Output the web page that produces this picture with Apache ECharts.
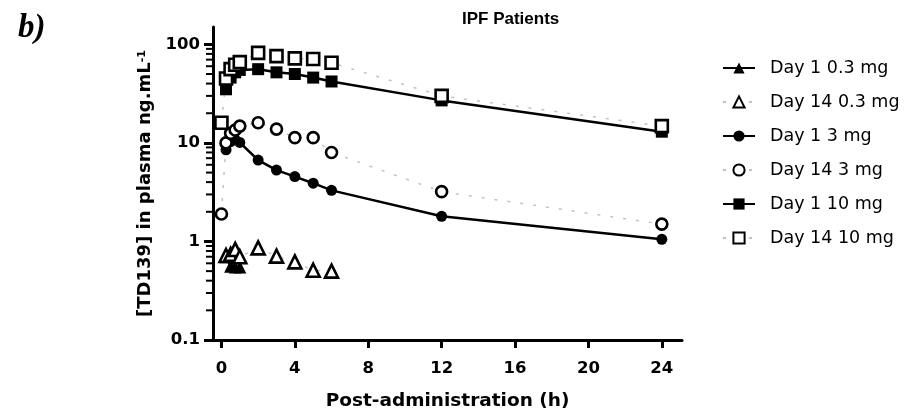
<!DOCTYPE html>
<html>
<head>
<meta charset="utf-8">
<script src="https://cdn.jsdelivr.net/npm/echarts@6/dist/echarts.min.js"></script>
<style>
  html, body { margin: 0; padding: 0; background: #fff; }
  #chart { width: 907px; height: 416px; }
</style>
</head>
<body>
<div id="chart"></div>
<script>
// Sampling times (h) after administration
const hours = [0, 0.25, 0.5, 0.75, 1, 2, 3, 4, 5, 6, 12, 24];

// Plasma TD139 concentration (ng/mL); null = not measured / below LLOQ
const day1_03mg  = [null, 0.70, 0.56, 0.55, 0.55, null, null, null, null, null, null, null];
const day14_03mg = [null, 0.72, 0.74, 0.83, 0.70, 0.86, 0.71, 0.62, 0.51, 0.50, null, null];
const day1_3mg   = [null, 8.5, 10.3, 10.8, 10.1, 6.7, 5.3, 4.55, 3.9, 3.3, 1.8, 1.05];
const day14_3mg  = [1.9, 10.0, 12.5, 13.5, 14.8, 16.0, 13.8, 11.3, 11.3, 8.0, 3.2, 1.5];
const day1_10mg  = [null, 35, 46, 52, 55, 56, 52, 50, 46, 42, 27, 13];
const day14_10mg = [16, 45, 56, 62, 66, 82, 76, 72, 71, 65, 30, 14.8];

const seriesNames = ['Day 1 0.3 mg', 'Day 14 0.3 mg', 'Day 1 3 mg', 'Day 14 3 mg', 'Day 1 10 mg', 'Day 14 10 mg'];

// Axis tick values
const xTicks = [0, 4, 8, 12, 16, 20, 24];
const yMajor = [0.1, 1, 10, 100];
const yMinor = [0.2, 0.3, 0.4, 0.5, 0.6, 0.7, 0.8, 0.9,
                2, 3, 4, 5, 6, 7, 8, 9,
                20, 30, 40, 50, 60, 70, 80, 90];

const AXIS_FONT = 'DejaVu Sans, Verdana, sans-serif';
const TITLE_FONT = 'Liberation Sans, Arial, Helvetica, sans-serif';

const X_MIN = -0.46, X_MAX = 25.1;
const Y_MIN = 0.1, Y_MAX = 150;

function pairs(values) {
  const out = [];
  values.forEach((v, i) => { if (v !== null) out.push([hours[i], v]); });
  return out;
}

function day1Series(name, values, symbol, size) {
  return {
    name, type: 'line', data: pairs(values),
    symbol, symbolSize: size,
    lineStyle: { color: '#000', width: 2.5 },
    itemStyle: { color: '#000', borderColor: '#000', borderWidth: 0 },
    emphasis: { disabled: true },
    z: 3,
    animation: false
  };
}

function day14Series(name, values, symbol, size) {
  return {
    name, type: 'line', data: pairs(values),
    symbol, symbolSize: size,
    lineStyle: { color: '#c2c2c2', width: 1.5, type: [3, 10] },
    itemStyle: { color: '#fff', borderColor: '#000', borderWidth: 2.6 },
    emphasis: { disabled: true },
    z: 3,
    animation: false
  };
}

// Short outward ticks at 2..9 of every decade on the log axis
const minorTickSeries = {
  type: 'custom',
  silent: true,
  clip: false,
  z: 5,
  data: yMinor.map(v => [X_MIN, v]),
  encode: { x: 0, y: 1 },
  renderItem(params, api) {
    const p = api.coord([api.value(0), api.value(1)]);
    return {
      type: 'line',
      shape: { x1: p[0] - 7, y1: p[1], x2: p[0], y2: p[1] },
      style: { stroke: '#000', lineWidth: 2 }
    };
  },
  animation: false
};

const chart = echarts.init(document.getElementById('chart'), null, { renderer: 'canvas' });

chart.setOption({
  backgroundColor: '#fff',
  animation: false,
  title: [
    {
      text: 'IPF Patients',
      left: 457, top: 6,
      textStyle: { fontFamily: TITLE_FONT, fontWeight: 'bold', fontSize: 17, color: '#000' }
    },
    {
      text: 'b)',
      left: 13, top: 7,
      textStyle: { fontFamily: 'Liberation Serif, Times New Roman, serif', fontStyle: 'italic', fontWeight: 'bold', fontSize: 33, color: '#000' }
    }
  ],
  legend: {
    orient: 'vertical',
    left: 717, top: 54,
    itemWidth: 32, itemHeight: 14, itemGap: 16,
    data: seriesNames,
    selectedMode: false,
    textStyle: { fontFamily: AXIS_FONT, fontSize: 17.5, color: '#000', padding: [0, 0, 0, 10] }
  },
  grid: { left: 213, right: 225, top: 27, bottom: 76, containLabel: false },
  xAxis: {
    type: 'value',
    min: X_MIN, max: X_MAX,
    name: 'Post-administration (h)',
    nameLocation: 'middle', nameGap: 52,
    nameTextStyle: { fontFamily: AXIS_FONT, fontWeight: 'bold', fontSize: 18.5, color: '#000' },
    axisLine: { show: true, onZero: false, lineStyle: { color: '#000', width: 3 } },
    axisTick: { show: true, customValues: xTicks, length: 8, lineStyle: { color: '#000', width: 3 } },
    axisLabel: { customValues: xTicks, margin: 20, fontFamily: AXIS_FONT, fontWeight: 'bold', fontSize: 16.5, color: '#000' },
    splitLine: { show: false }
  },
  yAxis: {
    type: 'log', logBase: 10,
    min: Y_MIN, max: Y_MAX,
    position: 'left',
    name: '{m|[TD139] in plasma ng.mL}{s|-1}',
    nameLocation: 'middle', nameRotate: 90, nameGap: 56,
    nameTextStyle: {
      rich: {
        m: { fontFamily: AXIS_FONT, fontWeight: 'bold', fontSize: 18, color: '#000' },
        s: { fontFamily: AXIS_FONT, fontWeight: 'bold', fontSize: 11, color: '#000', verticalAlign: 'top' }
      }
    },
    axisLine: { show: true, onZero: false, lineStyle: { color: '#000', width: 3 } },
    axisTick: { show: true, customValues: yMajor, length: 9, lineStyle: { color: '#000', width: 3 } },
    axisLabel: {
      customValues: yMajor, margin: 13,
      fontFamily: AXIS_FONT, fontWeight: 'bold', fontSize: 16.5, color: '#000',
      formatter: v => String(v)
    },
    splitLine: { show: false }
  },
  series: [
    minorTickSeries,
    day1Series(seriesNames[0], day1_03mg, 'triangle', 13),
    day14Series(seriesNames[1], day14_03mg, 'triangle', 13),
    day1Series(seriesNames[2], day1_3mg, 'circle', 11),
    day14Series(seriesNames[3], day14_3mg, 'circle', 11),
    day1Series(seriesNames[4], day1_10mg, 'rect', 12),
    day14Series(seriesNames[5], day14_10mg, 'rect', 12)
  ]
});
</script>
</body>
</html>
